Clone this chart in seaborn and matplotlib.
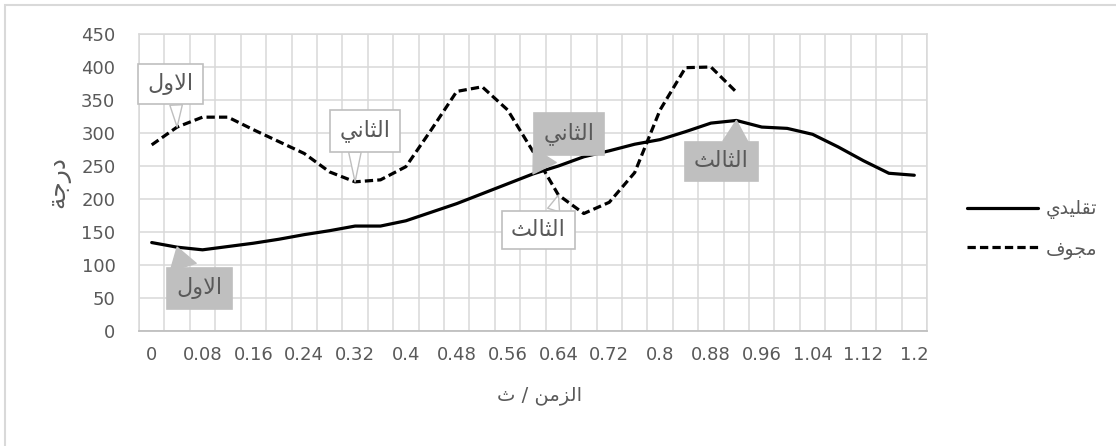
import matplotlib
matplotlib.use("Agg")
import matplotlib.pyplot as plt
import pandas as pd
import seaborn as sns
from matplotlib.patches import Rectangle

# ---- data -------------------------------------------------------------
time_s = [0, 0.04, 0.08, 0.12, 0.16, 0.2, 0.24, 0.28, 0.32, 0.36, 0.4,
          0.44, 0.48, 0.52, 0.56, 0.6, 0.64, 0.68, 0.72, 0.76, 0.8,
          0.84, 0.88, 0.92, 0.96, 1.0, 1.04, 1.08, 1.12, 1.16, 1.2]
traditional = [134, 127, 123, 128, 133, 139, 146, 152, 159, 159, 167,
               180, 193, 208, 223, 238, 250, 264, 273, 283, 290,
               302, 315, 319, 309, 307, 298, 279, 258, 239, 236]
hollow = [282, 309, 324, 324, 305, 287, 269, 241, 226, 229, 249,
          305, 363, 370, 335, 272, 206, 178, 195, 240, 335,
          399, 400, 362]
tick_labels = ["0", "0.08", "0.16", "0.24", "0.32", "0.4", "0.48", "0.56",
               "0.64", "0.72", "0.8", "0.88", "0.96", "1.04", "1.12", "1.2"]
series_names = ["تقليدي", "مجوف"]
y_title = "درجة"
x_title = "الزمن / ث"
# (series, point index, label text)
point_labels = [
    (1, 1, "الاول"), (1, 8, "الثاني"), (1, 16, "الثالث"),
    (0, 1, "الاول"), (0, 15, "الثاني"), (0, 23, "الثالث"),
]

# ---- minimal Arabic shaping (presentation forms, visual order) ---------
_FORMS = {  # isolated, final, initial, medial
    "ا": ("\uFE8D", "\uFE8E", None, None),
    "د": ("\uFEA9", "\uFEAA", None, None),
    "ر": ("\uFEAD", "\uFEAE", None, None),
    "ز": ("\uFEAF", "\uFEB0", None, None),
    "و": ("\uFEED", "\uFEEE", None, None),
    "ة": ("\uFE93", "\uFE94", None, None),
    "ت": ("\uFE95", "\uFE96", "\uFE97", "\uFE98"),
    "ث": ("\uFE99", "\uFE9A", "\uFE9B", "\uFE9C"),
    "ج": ("\uFE9D", "\uFE9E", "\uFE9F", "\uFEA0"),
    "ف": ("\uFED1", "\uFED2", "\uFED3", "\uFED4"),
    "ق": ("\uFED5", "\uFED6", "\uFED7", "\uFED8"),
    "ل": ("\uFEDD", "\uFEDE", "\uFEDF", "\uFEE0"),
    "م": ("\uFEE1", "\uFEE2", "\uFEE3", "\uFEE4"),
    "ن": ("\uFEE5", "\uFEE6", "\uFEE7", "\uFEE8"),
    "ي": ("\uFEF1", "\uFEF2", "\uFEF3", "\uFEF4"),
}


def _joins_left(ch):
    return ch in _FORMS and _FORMS[ch][2] is not None


def ar(text):
    out = []
    k = 0
    n = len(text)
    while k < n:
        c = text[k]
        prev = text[k - 1] if k > 0 else ""
        nxt = text[k + 1] if k + 1 < n else ""
        if c not in _FORMS:
            out.append(c)
            k += 1
            continue
        pj = _joins_left(prev)
        if c == "ل" and nxt == "ا":
            out.append("\uFEFC" if pj else "\uFEFB")
            k += 2
            continue
        nj = _joins_left(c) and nxt in _FORMS
        iso, fin, ini, med = _FORMS[c]
        if pj and nj:
            out.append(med)
        elif pj:
            out.append(fin)
        elif nj:
            out.append(ini)
        else:
            out.append(iso)
        k += 1
    return "".join(out)[::-1]


# ---- long-form table --------------------------------------------------
idx_trad = list(range(len(traditional)))
idx_hol = list(range(len(hollow)))
df = pd.DataFrame({
    "idx": idx_trad + idx_hol,
    "value": traditional + hollow,
    "series": [ar(series_names[0])] * len(traditional)
              + [ar(series_names[1])] * len(hollow),
})

# ---- figure -----------------------------------------------------------
sns.set_theme(style="white")
plt.rcParams["font.family"] = ["DejaVu Sans"]
W, H = 1116, 446
fig = plt.figure(figsize=(W / 100, H / 100), dpi=100)
ax = fig.add_axes([139 / W, 1 - 331 / H, (927 - 139) / W, (331 - 34) / H])

grid_c = "#d9d9d9"
text_c = "#595959"

sns.lineplot(
    data=df, x="idx", y="value", hue="series", style="series",
    palette=["black", "black"],
    dashes={ar(series_names[0]): "", ar(series_names[1]): (2.6, 1.3)},
    linewidth=2.3, legend=False, ax=ax, zorder=3,
)

ax.set_xlim(-0.5, len(time_s) - 0.5)
ax.set_ylim(0, 450)
ax.set_yticks(range(0, 451, 50))
ax.set_xticks(range(0, len(time_s), 2))
ax.set_xticklabels(tick_labels)
ax.set_xticks([i - 0.5 for i in range(len(time_s) + 1)], minor=True)
ax.grid(False)
ax.yaxis.grid(True, which="major", color=grid_c, lw=1.1)
ax.xaxis.grid(True, which="minor", color=grid_c, lw=1.1)
ax.set_axisbelow(True)
ax.tick_params(axis="both", which="both", length=0)
ax.tick_params(axis="y", pad=17, labelsize=13, labelcolor=text_c)
ax.tick_params(axis="x", pad=11, labelsize=13, labelcolor=text_c)
for side in ("left", "right", "top"):
    ax.spines[side].set_color(grid_c)
    ax.spines[side].set_linewidth(1.1)
ax.spines["bottom"].set_color("#bfbfbf")
ax.spines["bottom"].set_linewidth(1.3)

ax.set_xlabel(ar(x_title), fontsize=14, color=text_c)
ax.xaxis.set_label_coords((540 - 139) / (927 - 139), -(386 - 331) / (331 - 34))
ax.set_ylabel(ar(y_title), fontsize=18, color=text_c, labelpad=8)

# callout labels: box-centre offset (pixels), wedge anchor on box, wedge width
values = [traditional, hollow]
callout_geom = {
    (1, 1): ((-7, 43), (0.62, 0.0), 0.6),
    (1, 8): ((10, 51), (0.3, 0.0), 0.6),
    (1, 16): ((-20, -35), (0.72, 1.0), 0.6),
    (0, 1): ((22, -41), (0.22, 1.0), 1.3),
    (0, 15): ((36, 40), (0.15, 0.0), 1.3),
    (0, 23): ((-15, -41), (0.75, 1.0), 1.2),
}
for s, i, txt in point_labels:
    (dx, dy), rel, tw = callout_geom[(s, i)]
    if s == 1:
        fc, ec = "white", "#bfbfbf"
    else:
        fc, ec = "#bfbfbf", "#bfbfbf"
    ax.annotate(
        ar(txt), xy=(i, values[s][i]), xytext=(dx, dy),
        textcoords="offset pixels", ha="center", va="center",
        fontsize=16, color=text_c, zorder=5,
        bbox=dict(boxstyle="square,pad=0.42", fc=fc, ec=ec, lw=1.2),
        arrowprops=dict(arrowstyle=f"wedge,tail_width={tw},shrink_factor=0.5",
                        fc=fc, ec=ec, lw=1.0, shrinkA=0, shrinkB=0,
                        relpos=rel, mutation_scale=15),
    )

# legend
handles = ax.get_lines()[:2]
fig.legend(
    handles, [ar(n) for n in series_names],
    loc="center left", bbox_to_anchor=(967 / W, 1 - 229 / H),
    frameon=False, fontsize=13.5, labelcolor=text_c,
    handlelength=3.8, handletextpad=0.4, labelspacing=1.05,
    borderpad=0, borderaxespad=0,
)

# outer chart border
fig.patches.append(Rectangle((5 / W, -0.1), 1.2, 1.1 - 5 / H,
                             transform=fig.transFigure, fill=False,
                             ec=grid_c, lw=1.5))

fig.savefig("out.png", dpi=100, facecolor="white")
